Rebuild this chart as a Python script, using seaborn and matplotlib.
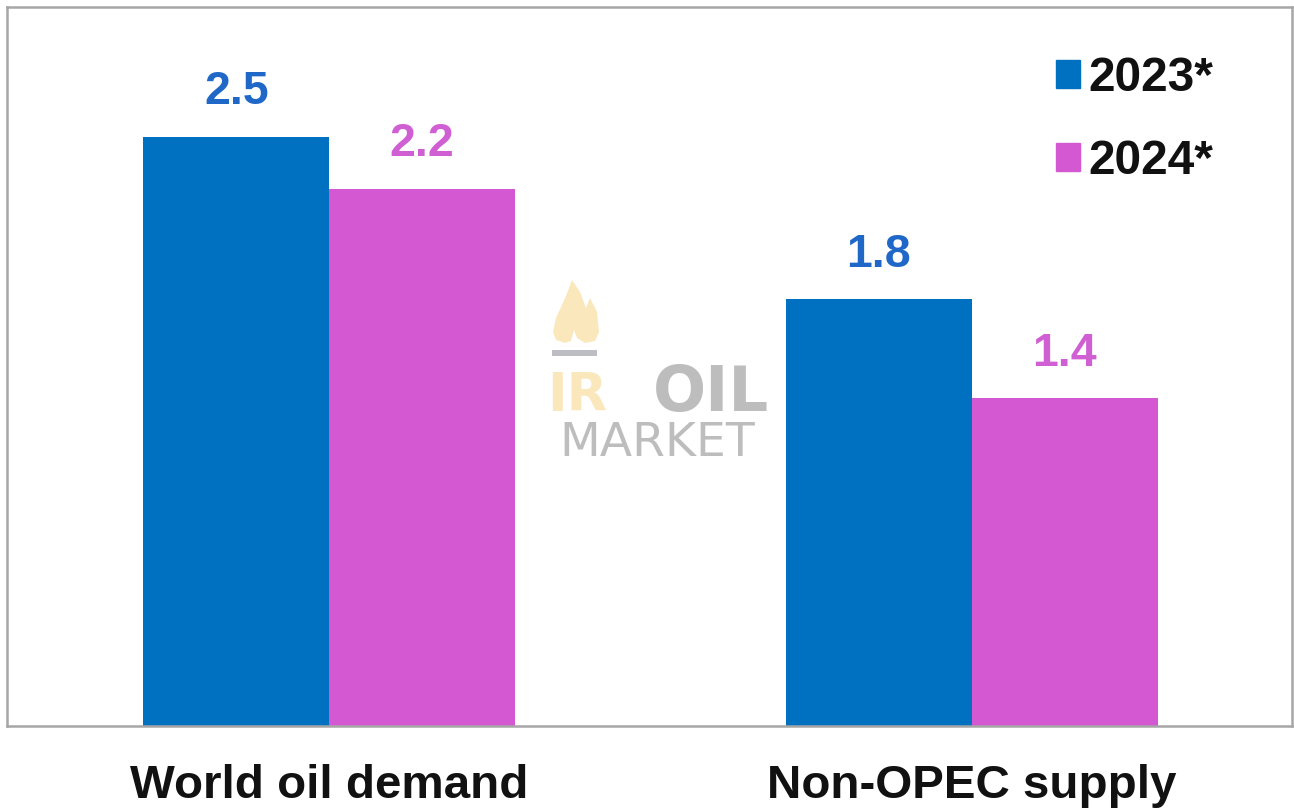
import matplotlib
matplotlib.use("Agg")
import matplotlib.pyplot as plt
from matplotlib.patches import Patch, Polygon, Rectangle
from matplotlib.transforms import Affine2D
import pandas as pd
import seaborn as sns

categories = ["World oil demand", "Non-OPEC supply"]
heights_2023 = [2.5, 1.81]
heights_2024 = [2.28, 1.39]
labels_2023 = ["2.5", "1.8"]
labels_2024 = ["2.2", "1.4"]
series_names = ["2023*", "2024*"]
series_colors = ["#0070C0", "#D558D3"]
label_colors = ["#1F68C8", "#CF5FD2"]

sns.set_theme(style="white")
plt.rcParams['font.family'] = ['Liberation Sans', 'DejaVu Sans']

df = pd.DataFrame({
    "category": categories * 2,
    "value": heights_2023 + heights_2024,
    "year": [series_names[0]] * 2 + [series_names[1]] * 2,
})

W, H = 1294, 810
fig = plt.figure(figsize=(W / 100, H / 100), dpi=100)
ax = fig.add_axes([7 / W, 1 - 726 / H, 1285 / W, 719 / H])

sns.barplot(data=df, x="category", y="value", hue="year", order=categories,
            hue_order=series_names, palette=series_colors, width=0.5786, gap=0,
            saturation=1, ax=ax, legend=False, linewidth=0)

ax.set_xlim(-0.5016, 1.4984)
ax.set_ylim(0, 3.05)
ax.set_yticks([])
ax.set_xlabel("")
ax.set_ylabel("")
ax.tick_params(axis="x", length=0, pad=27.5, labelsize=34.2)
for t in ax.get_xticklabels():
    t.set_fontweight("bold")
    t.set_color("#111111")
for s in ax.spines.values():
    s.set_color("#A6A6A6")
    s.set_linewidth(1.8)

for cont, col, labs in zip(ax.containers, label_colors, [labels_2023, labels_2024]):
    ax.bar_label(cont, labels=labs, padding=16, color=col, fontsize=33.5, fontweight="bold")

handles = [Patch(color=c, label=n) for c, n in zip(series_colors, series_names)]
leg = ax.legend(handles=handles, loc="upper right", frameon=False,
                bbox_to_anchor=(0.9385, 0.932), borderaxespad=0, borderpad=0,
                handlelength=0.5, handleheight=0.52, handletextpad=0.17,
                labelspacing=0.8, prop={"size": 34.4, "weight": "bold"})
for t in leg.get_texts():
    t.set_color("#111111")

# Watermark logo, placed in figure pixels from the top-left corner
px = Affine2D().scale(1, -1).translate(0, H)
flame = [(572, 280), (566, 296), (556, 318), (553, 332), (556, 340), (565, 343),
         (571, 341), (574, 330), (577, 338), (585, 343), (595, 341), (599, 332),
         (597, 312), (590, 298), (586, 308), (580, 292)]
fig.add_artist(Polygon(flame, closed=True, facecolor="#FBE7BC", edgecolor="none", transform=px))
fig.add_artist(Rectangle((552, 350), 45, 6, facecolor="#BDBDC4", edgecolor="none", transform=px))

fig.text(577 / W, 1 - 411 / H, "IR", color="#FBE7BC", fontsize=38,
         fontweight="bold", ha="center", family="DejaVu Sans")
fig.text(711 / W, 1 - 411 / H, "OIL", color="#BDBDBD", fontsize=45,
         fontweight="bold", ha="center", family="DejaVu Sans")
fig.text(657 / W, 1 - 456 / H, "MARKET", color="#BDBDBD", fontsize=34,
         ha="center", family="DejaVu Sans")

fig.savefig("out.png", dpi=100)
